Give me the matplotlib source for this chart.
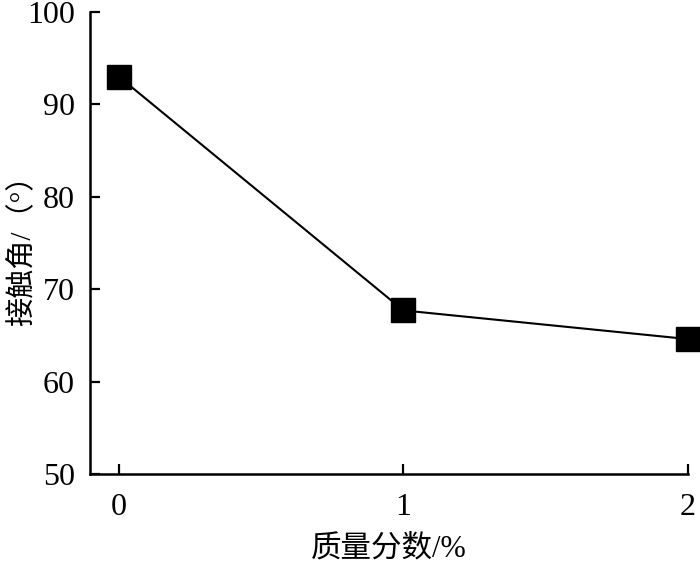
import matplotlib
matplotlib.use('Agg')
import matplotlib.pyplot as plt

# data
mass_fraction = [0, 1, 2]
contact_angle = [93.0, 67.7, 64.6]
x_ticks = [0, 1, 2]
y_ticks = [50, 60, 70, 80, 90, 100]

FONTS = ['Liberation Serif', 'Noto Sans CJK SC']
plt.rcParams['font.family'] = FONTS

fig = plt.figure(figsize=(7, 5.63), dpi=100)
ax = fig.add_axes([0.129, 0.158, 0.854, 0.821])

ax.plot(mass_fraction, contact_angle, color='black', linewidth=1.5,
        marker='s', markersize=17, markerfacecolor='black',
        markeredgecolor='black', markeredgewidth=1, clip_on=False, zorder=3)

ax.set_xlim(-0.1, 2)
ax.set_ylim(50, 100)
ax.set_xticks(x_ticks)
ax.set_yticks(y_ticks)

for side in ['top', 'right']:
    ax.spines[side].set_visible(False)
for side in ['left', 'bottom']:
    ax.spines[side].set_linewidth(1.8)

ax.tick_params(direction='in', length=7, width=1.6, labelsize=23)
ax.tick_params(axis='y', pad=11)
ax.tick_params(axis='x', pad=14)

ax.set_xlabel('质量分数/%', fontsize=22, labelpad=9)
ax.set_ylabel('接触角/（°）', fontsize=21)
ax.yaxis.set_label_coords(-0.09, 0.5)

fig.savefig('out.png', dpi=100)
